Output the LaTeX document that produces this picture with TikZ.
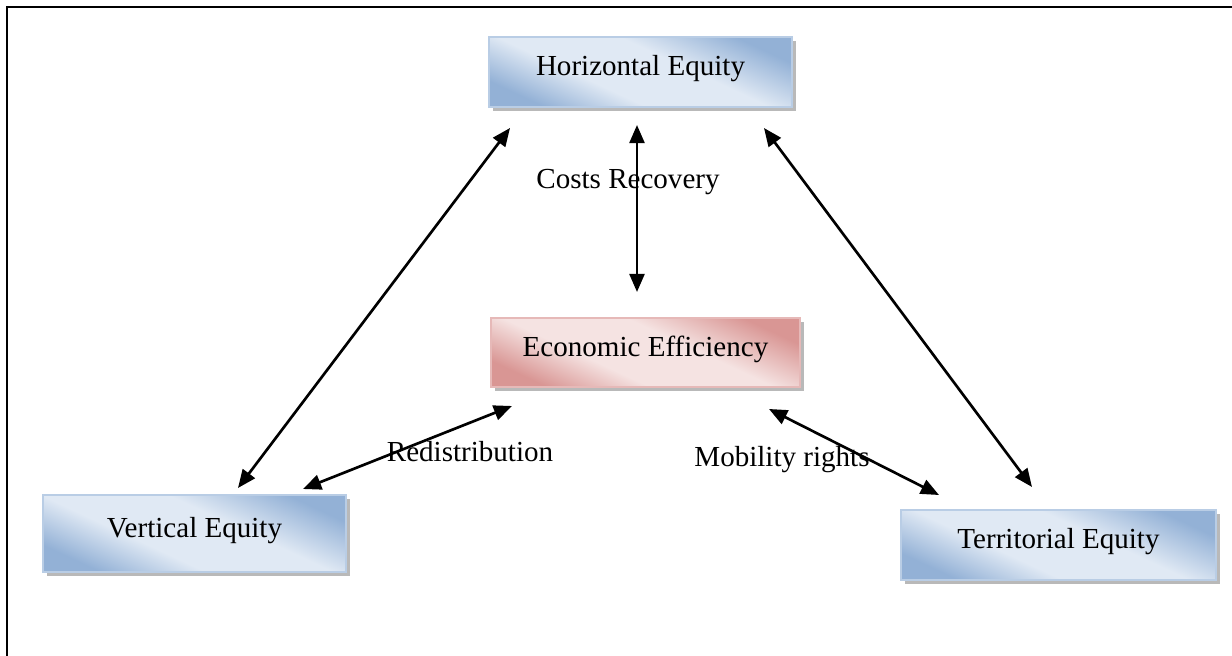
\documentclass[tikz,border=0pt]{standalone}
\usepackage{fontspec}
\setmainfont{Liberation Serif}
\usepackage{tikz}
\usetikzlibrary{arrows.meta,shadows,calc}

\definecolor{eqdark}{HTML}{93B1D6}
\definecolor{eqlight}{HTML}{E0E9F4}
\definecolor{eqline}{HTML}{B9CDE5}
\definecolor{efdark}{HTML}{D99694}
\definecolor{eflight}{HTML}{F5E3E2}
\definecolor{efline}{HTML}{E6B9B8}

\pgfdeclareverticalshading{eqshade}{100bp}{color(0bp)=(eqdark); color(25bp)=(eqdark);
  color(40bp)=(eqlight); color(58bp)=(eqlight); color(75bp)=(eqdark); color(100bp)=(eqdark)}
\pgfdeclareverticalshading{efshade}{100bp}{color(0bp)=(efdark); color(25bp)=(efdark);
  color(40bp)=(eflight); color(58bp)=(eflight); color(75bp)=(efdark); color(100bp)=(efdark)}

\tikzset{
  eqbox/.style={draw=eqline, line width=0.5pt, shading=eqshade, shading angle=-25,
    inner sep=0pt, text height=8pt, text depth=5pt,
    drop shadow={shadow xshift=1.6pt, shadow yshift=-1.6pt, fill=gray!55, opacity=1}},
  efbox/.style={eqbox, draw=efline, shading=efshade},
  link/.style={{Triangle[length=7.5pt,width=6.2pt]}-{Triangle[length=7.5pt,width=6.2pt]}, line width=1.1pt},
}

\begin{document}
\begin{tikzpicture}[x=0.413pt, y=-0.413pt, font=\fontsize{12}{14}\selectfont]
\useasboundingbox (0,0) rectangle (1232,656);
\draw[line width=1.2pt] (7,656) -- (7,7) -- (1232,7);

\node[eqbox, minimum width=125.1pt, minimum height=28.9pt] (horiz) at (640.5,72) {Horizontal Equity};
\node[efbox, minimum width=127.6pt, minimum height=28.5pt] (econ) at (645.5,352.5) {Economic Efficiency};
\node[eqbox, minimum width=125.1pt, minimum height=31.8pt] (vert) at (194.5,533.5) {Vertical Equity};
\node[eqbox, minimum width=130.1pt, minimum height=28.9pt] (terr) at (1058.5,545) {Territorial Equity};

% arrow ends
\coordinate (hv) at (510,128);
\coordinate (vh) at (238,488);
\coordinate (hc) at (637,125);
\coordinate (ch) at (637,292);
\coordinate (ht) at (764,128);
\coordinate (th) at (1032,487);
\coordinate (ev) at (512,406);
\coordinate (ve) at (303,489);
\coordinate (et) at (769,409);
\coordinate (te) at (939,495);

\draw[link] (hv) -- (vh);
\draw[link] (hc) -- (ch);
\draw[link] (ht) -- (th);
\draw[link] (ev) -- (ve);
\draw[link] (et) -- (te);

\node (cost) at (628,182) {Costs Recovery};
\node (redist) at (470,452) {Redistribution};
\node (mobil) at (782,460) {Mobility rights};
\end{tikzpicture}
\end{document}
